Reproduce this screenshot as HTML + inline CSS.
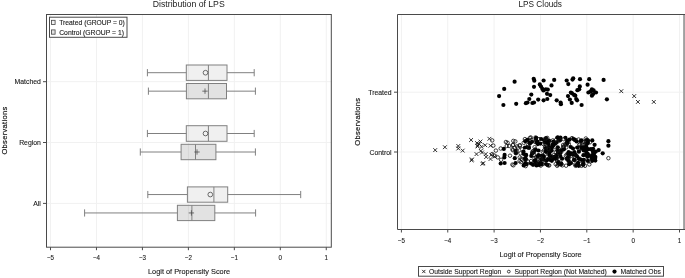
<!DOCTYPE html>
<html><head><meta charset="utf-8"><title>LPS</title>
<style>html,body{margin:0;padding:0;background:#fff}svg{display:block;will-change:transform;opacity:0.999}</style></head>
<body>
<svg width="685" height="278" viewBox="0 0 685 278" font-family="Liberation Sans, Arial, Helvetica, sans-serif">
<line x1="50.50" y1="14.5" x2="50.50" y2="247.2" stroke="#f1f1f1" stroke-width="1"/>
<line x1="96.46" y1="14.5" x2="96.46" y2="247.2" stroke="#f1f1f1" stroke-width="1"/>
<line x1="142.42" y1="14.5" x2="142.42" y2="247.2" stroke="#f1f1f1" stroke-width="1"/>
<line x1="188.38" y1="14.5" x2="188.38" y2="247.2" stroke="#f1f1f1" stroke-width="1"/>
<line x1="234.34" y1="14.5" x2="234.34" y2="247.2" stroke="#f1f1f1" stroke-width="1"/>
<line x1="280.30" y1="14.5" x2="280.30" y2="247.2" stroke="#f1f1f1" stroke-width="1"/>
<line x1="326.26" y1="14.5" x2="326.26" y2="247.2" stroke="#f1f1f1" stroke-width="1"/>
<line x1="46.5" y1="81.7" x2="331.3" y2="81.7" stroke="#f1f1f1" stroke-width="1"/>
<line x1="46.5" y1="142.5" x2="331.3" y2="142.5" stroke="#f1f1f1" stroke-width="1"/>
<line x1="46.5" y1="203.4" x2="331.3" y2="203.4" stroke="#f1f1f1" stroke-width="1"/>
<line x1="147.4" y1="72.7" x2="186.3" y2="72.7" stroke="#808080" stroke-width="1"/>
<line x1="227.0" y1="72.7" x2="254.2" y2="72.7" stroke="#808080" stroke-width="1"/>
<line x1="147.4" y1="69.10000000000001" x2="147.4" y2="76.3" stroke="#808080" stroke-width="1"/>
<line x1="254.2" y1="69.10000000000001" x2="254.2" y2="76.3" stroke="#808080" stroke-width="1"/>
<rect x="186.3" y="65.0" width="40.70" height="15.40" fill="#000" fill-opacity="0.058" stroke="#808080" stroke-width="1"/>
<line x1="208.4" y1="65.0" x2="208.4" y2="80.4" stroke="#808080" stroke-width="1"/>
<circle cx="205.5" cy="72.7" r="2.35" fill="none" stroke="#4a4a4a" stroke-width="0.8"/>
<line x1="148.4" y1="91.15" x2="186.4" y2="91.15" stroke="#808080" stroke-width="1"/>
<line x1="226.5" y1="91.15" x2="255.4" y2="91.15" stroke="#808080" stroke-width="1"/>
<line x1="148.4" y1="87.55000000000001" x2="148.4" y2="94.75" stroke="#808080" stroke-width="1"/>
<line x1="255.4" y1="87.55000000000001" x2="255.4" y2="94.75" stroke="#808080" stroke-width="1"/>
<rect x="186.4" y="83.5" width="40.10" height="15.30" fill="#000" fill-opacity="0.115" stroke="#808080" stroke-width="1"/>
<line x1="208.4" y1="83.5" x2="208.4" y2="98.8" stroke="#808080" stroke-width="1"/>
<path d="M202.3 91.15H207.7M205.0 88.45V93.85000000000001" stroke="#4a4a4a" stroke-width="0.75" fill="none"/>
<line x1="147.4" y1="133.5" x2="186.3" y2="133.5" stroke="#808080" stroke-width="1"/>
<line x1="227.0" y1="133.5" x2="254.2" y2="133.5" stroke="#808080" stroke-width="1"/>
<line x1="147.4" y1="129.9" x2="147.4" y2="137.1" stroke="#808080" stroke-width="1"/>
<line x1="254.2" y1="129.9" x2="254.2" y2="137.1" stroke="#808080" stroke-width="1"/>
<rect x="186.3" y="125.7" width="40.70" height="15.60" fill="#000" fill-opacity="0.058" stroke="#808080" stroke-width="1"/>
<line x1="208.4" y1="125.7" x2="208.4" y2="141.3" stroke="#808080" stroke-width="1"/>
<circle cx="205.5" cy="133.5" r="2.35" fill="none" stroke="#4a4a4a" stroke-width="0.8"/>
<line x1="140.3" y1="152.0" x2="181.1" y2="152.0" stroke="#808080" stroke-width="1"/>
<line x1="215.9" y1="152.0" x2="255.4" y2="152.0" stroke="#808080" stroke-width="1"/>
<line x1="140.3" y1="148.4" x2="140.3" y2="155.6" stroke="#808080" stroke-width="1"/>
<line x1="255.4" y1="148.4" x2="255.4" y2="155.6" stroke="#808080" stroke-width="1"/>
<rect x="181.1" y="144.3" width="34.80" height="15.40" fill="#000" fill-opacity="0.115" stroke="#808080" stroke-width="1"/>
<line x1="195.5" y1="144.3" x2="195.5" y2="159.7" stroke="#808080" stroke-width="1"/>
<path d="M194.3 152.0H199.7M197.0 149.3V154.7" stroke="#4a4a4a" stroke-width="0.75" fill="none"/>
<line x1="147.8" y1="194.55" x2="187.4" y2="194.55" stroke="#808080" stroke-width="1"/>
<line x1="227.7" y1="194.55" x2="300.7" y2="194.55" stroke="#808080" stroke-width="1"/>
<line x1="147.8" y1="190.95000000000002" x2="147.8" y2="198.15" stroke="#808080" stroke-width="1"/>
<line x1="300.7" y1="190.95000000000002" x2="300.7" y2="198.15" stroke="#808080" stroke-width="1"/>
<rect x="187.4" y="186.9" width="40.30" height="15.30" fill="#000" fill-opacity="0.058" stroke="#808080" stroke-width="1"/>
<line x1="213.9" y1="186.9" x2="213.9" y2="202.2" stroke="#808080" stroke-width="1"/>
<circle cx="210.3" cy="194.55" r="2.35" fill="none" stroke="#4a4a4a" stroke-width="0.8"/>
<line x1="84.6" y1="212.95" x2="177.4" y2="212.95" stroke="#808080" stroke-width="1"/>
<line x1="214.8" y1="212.95" x2="255.6" y2="212.95" stroke="#808080" stroke-width="1"/>
<line x1="84.6" y1="209.35" x2="84.6" y2="216.54999999999998" stroke="#808080" stroke-width="1"/>
<line x1="255.6" y1="209.35" x2="255.6" y2="216.54999999999998" stroke="#808080" stroke-width="1"/>
<rect x="177.4" y="205.3" width="37.40" height="15.30" fill="#000" fill-opacity="0.115" stroke="#808080" stroke-width="1"/>
<line x1="191.9" y1="205.3" x2="191.9" y2="220.6" stroke="#808080" stroke-width="1"/>
<path d="M188.70000000000002 212.95H194.1M191.4 210.25V215.64999999999998" stroke="#4a4a4a" stroke-width="0.75" fill="none"/>
<rect x="46.5" y="14.5" width="284.8" height="232.7" fill="none" stroke="#4a4a4a" stroke-width="1"/>
<line x1="50.50" y1="247.2" x2="50.50" y2="250.2" stroke="#4a4a4a" stroke-width="1"/>
<text transform="translate(50.5 260.0) scale(0.82 1)" font-size="7.6" text-anchor="middle" fill="#1a1a1a" stroke="#1a1a1a" stroke-width="0.12">−5</text>
<line x1="96.46" y1="247.2" x2="96.46" y2="250.2" stroke="#4a4a4a" stroke-width="1"/>
<text transform="translate(96.46 260.0) scale(0.82 1)" font-size="7.6" text-anchor="middle" fill="#1a1a1a" stroke="#1a1a1a" stroke-width="0.12">−4</text>
<line x1="142.42" y1="247.2" x2="142.42" y2="250.2" stroke="#4a4a4a" stroke-width="1"/>
<text transform="translate(142.42 260.0) scale(0.82 1)" font-size="7.6" text-anchor="middle" fill="#1a1a1a" stroke="#1a1a1a" stroke-width="0.12">−3</text>
<line x1="188.38" y1="247.2" x2="188.38" y2="250.2" stroke="#4a4a4a" stroke-width="1"/>
<text transform="translate(188.38 260.0) scale(0.82 1)" font-size="7.6" text-anchor="middle" fill="#1a1a1a" stroke="#1a1a1a" stroke-width="0.12">−2</text>
<line x1="234.34" y1="247.2" x2="234.34" y2="250.2" stroke="#4a4a4a" stroke-width="1"/>
<text transform="translate(234.34 260.0) scale(0.82 1)" font-size="7.6" text-anchor="middle" fill="#1a1a1a" stroke="#1a1a1a" stroke-width="0.12">−1</text>
<line x1="280.30" y1="247.2" x2="280.30" y2="250.2" stroke="#4a4a4a" stroke-width="1"/>
<text transform="translate(280.3 260.0) scale(0.82 1)" font-size="7.6" text-anchor="middle" fill="#1a1a1a" stroke="#1a1a1a" stroke-width="0.12">0</text>
<line x1="326.26" y1="247.2" x2="326.26" y2="250.2" stroke="#4a4a4a" stroke-width="1"/>
<text transform="translate(326.26 260.0) scale(0.82 1)" font-size="7.6" text-anchor="middle" fill="#1a1a1a" stroke="#1a1a1a" stroke-width="0.12">1</text>
<line x1="43.0" y1="81.7" x2="46.5" y2="81.7" stroke="#4a4a4a" stroke-width="1"/>
<text transform="translate(40.9 84.4) scale(0.905 1)" font-size="7.6" text-anchor="end" fill="#1a1a1a" stroke="#1a1a1a" stroke-width="0.12">Matched</text>
<line x1="43.0" y1="142.5" x2="46.5" y2="142.5" stroke="#4a4a4a" stroke-width="1"/>
<text transform="translate(40.9 145.2) scale(0.905 1)" font-size="7.6" text-anchor="end" fill="#1a1a1a" stroke="#1a1a1a" stroke-width="0.12">Region</text>
<line x1="43.0" y1="203.4" x2="46.5" y2="203.4" stroke="#4a4a4a" stroke-width="1"/>
<text transform="translate(40.9 206.1) scale(0.905 1)" font-size="7.6" text-anchor="end" fill="#1a1a1a" stroke="#1a1a1a" stroke-width="0.12">All</text>
<text transform="translate(152.8 7.4)" font-size="9.1" text-anchor="start" fill="#1a1a1a" textLength="71.9" lengthAdjust="spacingAndGlyphs">Distribution of LPS</text>
<text transform="translate(148.0 273.9)" font-size="8.0" text-anchor="start" fill="#1a1a1a" textLength="82.2" lengthAdjust="spacingAndGlyphs" stroke="#1a1a1a" stroke-width="0.12">Logit of Propensity Score</text>
<text transform="translate(6.5 154.6) rotate(-90)" font-size="7.5" text-anchor="start" fill="#1a1a1a" textLength="47.8" lengthAdjust="spacing" stroke="#1a1a1a" stroke-width="0.2">Observations</text>
<rect x="49.5" y="17.2" width="77.5" height="20.1" fill="#fff" stroke="#4a4a4a" stroke-width="1"/>
<rect x="51.5" y="20.3" width="3.6" height="4.3" fill="#f1f1f1" stroke="#444" stroke-width="0.8"/>
<rect x="51.5" y="29.9" width="3.6" height="4.3" fill="#e2e2e2" stroke="#444" stroke-width="0.8"/>
<text transform="translate(59.2 25.3)" font-size="7.6" text-anchor="start" fill="#1a1a1a" textLength="65.6" lengthAdjust="spacingAndGlyphs" stroke="#1a1a1a" stroke-width="0.12">Treated (GROUP = 0)</text>
<text transform="translate(59.2 34.8)" font-size="7.6" text-anchor="start" fill="#1a1a1a" textLength="64.8" lengthAdjust="spacingAndGlyphs" stroke="#1a1a1a" stroke-width="0.12">Control (GROUP = 1)</text>
<line x1="401.40" y1="14.5" x2="401.40" y2="229.5" stroke="#f1f1f1" stroke-width="1"/>
<line x1="447.75" y1="14.5" x2="447.75" y2="229.5" stroke="#f1f1f1" stroke-width="1"/>
<line x1="494.10" y1="14.5" x2="494.10" y2="229.5" stroke="#f1f1f1" stroke-width="1"/>
<line x1="540.45" y1="14.5" x2="540.45" y2="229.5" stroke="#f1f1f1" stroke-width="1"/>
<line x1="586.80" y1="14.5" x2="586.80" y2="229.5" stroke="#f1f1f1" stroke-width="1"/>
<line x1="633.15" y1="14.5" x2="633.15" y2="229.5" stroke="#f1f1f1" stroke-width="1"/>
<line x1="679.50" y1="14.5" x2="679.50" y2="229.5" stroke="#f1f1f1" stroke-width="1"/>
<line x1="397.5" y1="92.2" x2="683.5" y2="92.2" stroke="#f1f1f1" stroke-width="1"/>
<line x1="397.5" y1="152.0" x2="683.5" y2="152.0" stroke="#f1f1f1" stroke-width="1"/>
<circle cx="499.1" cy="96.1" r="2.1" fill="#000"/>
<circle cx="504.2" cy="88.9" r="2.1" fill="#000"/>
<circle cx="503.4" cy="105.0" r="2.1" fill="#000"/>
<circle cx="514.6" cy="81.7" r="2.1" fill="#000"/>
<circle cx="516.2" cy="103.8" r="2.1" fill="#000"/>
<circle cx="525.9" cy="103.2" r="2.1" fill="#000"/>
<circle cx="527.5" cy="102.5" r="2.1" fill="#000"/>
<circle cx="529.3" cy="99.0" r="2.1" fill="#000"/>
<circle cx="531.3" cy="94.6" r="2.1" fill="#000"/>
<circle cx="532.4" cy="103.0" r="2.1" fill="#000"/>
<circle cx="534.0" cy="102.5" r="2.1" fill="#000"/>
<circle cx="533.7" cy="78.8" r="2.1" fill="#000"/>
<circle cx="534.3" cy="80.7" r="2.1" fill="#000"/>
<circle cx="534.0" cy="86.8" r="2.1" fill="#000"/>
<circle cx="538.2" cy="99.6" r="2.1" fill="#000"/>
<circle cx="539.8" cy="84.4" r="2.1" fill="#000"/>
<circle cx="541.0" cy="86.5" r="2.1" fill="#000"/>
<circle cx="542.3" cy="88.8" r="2.1" fill="#000"/>
<circle cx="543.4" cy="90.4" r="2.1" fill="#000"/>
<circle cx="543.6" cy="80.5" r="2.1" fill="#000"/>
<circle cx="543.6" cy="100.3" r="2.1" fill="#000"/>
<circle cx="545.8" cy="89.3" r="2.1" fill="#000"/>
<circle cx="547.8" cy="89.6" r="2.1" fill="#000"/>
<circle cx="547.0" cy="93.8" r="2.1" fill="#000"/>
<circle cx="547.3" cy="99.0" r="2.1" fill="#000"/>
<circle cx="550.2" cy="95.1" r="2.1" fill="#000"/>
<circle cx="551.5" cy="85.4" r="2.1" fill="#000"/>
<circle cx="554.2" cy="79.9" r="2.1" fill="#000"/>
<circle cx="556.7" cy="100.3" r="2.1" fill="#000"/>
<circle cx="560.6" cy="102.5" r="2.1" fill="#000"/>
<circle cx="560.9" cy="104.2" r="2.1" fill="#000"/>
<circle cx="566.7" cy="80.5" r="2.1" fill="#000"/>
<circle cx="568.3" cy="84.1" r="2.1" fill="#000"/>
<circle cx="568.0" cy="96.1" r="2.1" fill="#000"/>
<circle cx="569.9" cy="99.5" r="2.1" fill="#000"/>
<circle cx="570.9" cy="92.5" r="2.1" fill="#000"/>
<circle cx="572.0" cy="93.3" r="2.1" fill="#000"/>
<circle cx="571.7" cy="102.9" r="2.1" fill="#000"/>
<circle cx="572.5" cy="79.6" r="2.1" fill="#000"/>
<circle cx="573.2" cy="78.3" r="2.1" fill="#000"/>
<circle cx="574.1" cy="94.9" r="2.1" fill="#000"/>
<circle cx="575.3" cy="95.7" r="2.1" fill="#000"/>
<circle cx="576.2" cy="99.0" r="2.1" fill="#000"/>
<circle cx="577.1" cy="100.3" r="2.1" fill="#000"/>
<circle cx="577.4" cy="90.2" r="2.1" fill="#000"/>
<circle cx="579.2" cy="89.3" r="2.1" fill="#000"/>
<circle cx="579.8" cy="86.4" r="2.1" fill="#000"/>
<circle cx="580.0" cy="79.2" r="2.1" fill="#000"/>
<circle cx="581.6" cy="105.0" r="2.1" fill="#000"/>
<circle cx="587.6" cy="84.7" r="2.1" fill="#000"/>
<circle cx="589.2" cy="79.2" r="2.1" fill="#000"/>
<circle cx="588.4" cy="92.5" r="2.1" fill="#000"/>
<circle cx="590.3" cy="91.7" r="2.1" fill="#000"/>
<circle cx="591.9" cy="89.3" r="2.1" fill="#000"/>
<circle cx="593.6" cy="90.4" r="2.1" fill="#000"/>
<circle cx="591.9" cy="95.7" r="2.1" fill="#000"/>
<circle cx="593.1" cy="94.1" r="2.1" fill="#000"/>
<circle cx="596.0" cy="92.5" r="2.1" fill="#000"/>
<circle cx="603.6" cy="79.9" r="2.1" fill="#000"/>
<circle cx="606.9" cy="99.3" r="2.1" fill="#000"/>
<path d="M619.4 89.3L623.2 93.1M619.4 93.1L623.2 89.3" stroke="#1a1a1a" stroke-width="0.9" fill="none"/>
<path d="M632.3 94.2L636.1 98.0M632.3 98.0L636.1 94.2" stroke="#1a1a1a" stroke-width="0.9" fill="none"/>
<path d="M636.0 100.0L639.8 103.8M636.0 103.8L639.8 100.0" stroke="#1a1a1a" stroke-width="0.9" fill="none"/>
<path d="M651.9 100.0L655.7 103.8M651.9 103.8L655.7 100.0" stroke="#1a1a1a" stroke-width="0.9" fill="none"/>
<path d="M433.3 148.2L437.1 152.0M433.3 152.0L437.1 148.2" stroke="#1a1a1a" stroke-width="0.9" fill="none"/>
<path d="M443.0 145.3L446.8 149.1M443.0 149.1L446.8 145.3" stroke="#1a1a1a" stroke-width="0.9" fill="none"/>
<path d="M456.4 144.1L460.2 147.9M456.4 147.9L460.2 144.1" stroke="#1a1a1a" stroke-width="0.9" fill="none"/>
<path d="M456.4 146.6L460.2 150.4M456.4 150.4L460.2 146.6" stroke="#1a1a1a" stroke-width="0.9" fill="none"/>
<path d="M460.8 148.7L464.6 152.5M460.8 152.5L464.6 148.7" stroke="#1a1a1a" stroke-width="0.9" fill="none"/>
<path d="M469.2 138.1L473.0 141.9M469.2 141.9L473.0 138.1" stroke="#1a1a1a" stroke-width="0.9" fill="none"/>
<path d="M470.0 157.6L473.8 161.4M470.0 161.4L473.8 157.6" stroke="#1a1a1a" stroke-width="0.9" fill="none"/>
<path d="M469.7 158.4L473.5 162.2M469.7 162.2L473.5 158.4" stroke="#1a1a1a" stroke-width="0.9" fill="none"/>
<path d="M474.6 152.2L478.4 156.0M474.6 156.0L478.4 152.2" stroke="#1a1a1a" stroke-width="0.9" fill="none"/>
<path d="M475.2 141.2L479.0 145.0M475.2 145.0L479.0 141.2" stroke="#1a1a1a" stroke-width="0.9" fill="none"/>
<path d="M475.7 143.3L479.5 147.1M475.7 147.1L479.5 143.3" stroke="#1a1a1a" stroke-width="0.9" fill="none"/>
<path d="M475.7 144.5L479.5 148.3M475.7 148.3L479.5 144.5" stroke="#1a1a1a" stroke-width="0.9" fill="none"/>
<path d="M478.6 139.6L482.4 143.4M478.6 143.4L482.4 139.6" stroke="#1a1a1a" stroke-width="0.9" fill="none"/>
<path d="M478.9 149.0L482.7 152.8M478.9 152.8L482.7 149.0" stroke="#1a1a1a" stroke-width="0.9" fill="none"/>
<path d="M479.7 144.9L483.5 148.7M479.7 148.7L483.5 144.9" stroke="#1a1a1a" stroke-width="0.9" fill="none"/>
<path d="M480.5 161.9L484.3 165.7M480.5 165.7L484.3 161.9" stroke="#1a1a1a" stroke-width="0.9" fill="none"/>
<path d="M481.4 161.3L485.2 165.1M481.4 165.1L485.2 161.3" stroke="#1a1a1a" stroke-width="0.9" fill="none"/>
<path d="M483.3 143.3L487.1 147.1M483.3 147.1L487.1 143.3" stroke="#1a1a1a" stroke-width="0.9" fill="none"/>
<path d="M483.8 152.2L487.6 156.0M483.8 156.0L487.6 152.2" stroke="#1a1a1a" stroke-width="0.9" fill="none"/>
<path d="M484.3 155.1L488.1 158.9M484.3 158.9L488.1 155.1" stroke="#1a1a1a" stroke-width="0.9" fill="none"/>
<path d="M487.5 136.9L491.3 140.7M487.5 140.7L491.3 136.9" stroke="#1a1a1a" stroke-width="0.9" fill="none"/>
<path d="M488.6 143.8L492.4 147.6M488.6 147.6L492.4 143.8" stroke="#1a1a1a" stroke-width="0.9" fill="none"/>
<path d="M489.4 153.0L493.2 156.8M489.4 156.8L493.2 153.0" stroke="#1a1a1a" stroke-width="0.9" fill="none"/>
<path d="M488.6 157.1L492.4 160.9M488.6 160.9L492.4 157.1" stroke="#1a1a1a" stroke-width="0.9" fill="none"/>
<path d="M492.7 154.7L496.5 158.5M492.7 158.5L496.5 154.7" stroke="#1a1a1a" stroke-width="0.9" fill="none"/>
<path d="M477.3 142.2L481.1 146.0M477.3 146.0L481.1 142.2" stroke="#1a1a1a" stroke-width="0.9" fill="none"/>
<path d="M480.1 150.6L483.9 154.4M480.1 154.4L483.9 150.6" stroke="#1a1a1a" stroke-width="0.9" fill="none"/>
<circle cx="492.2" cy="140.4" r="1.75" fill="none" stroke="#111" stroke-width="0.8"/>
<circle cx="493.3" cy="145.6" r="1.75" fill="none" stroke="#111" stroke-width="0.8"/>
<circle cx="495.9" cy="150.6" r="1.75" fill="none" stroke="#111" stroke-width="0.8"/>
<circle cx="492.2" cy="154.1" r="1.75" fill="none" stroke="#111" stroke-width="0.8"/>
<circle cx="494.6" cy="155.7" r="1.75" fill="none" stroke="#111" stroke-width="0.8"/>
<circle cx="497.8" cy="157.4" r="1.75" fill="none" stroke="#111" stroke-width="0.8"/>
<circle cx="500.7" cy="148.5" r="1.75" fill="none" stroke="#111" stroke-width="0.8"/>
<circle cx="505.9" cy="142.0" r="1.75" fill="none" stroke="#111" stroke-width="0.8"/>
<circle cx="506.7" cy="146.0" r="1.75" fill="none" stroke="#111" stroke-width="0.8"/>
<circle cx="509.1" cy="146.0" r="1.75" fill="none" stroke="#111" stroke-width="0.8"/>
<circle cx="513.2" cy="144.9" r="1.75" fill="none" stroke="#111" stroke-width="0.8"/>
<circle cx="519.7" cy="145.2" r="1.75" fill="none" stroke="#111" stroke-width="0.8"/>
<circle cx="522.1" cy="149.3" r="1.75" fill="none" stroke="#111" stroke-width="0.8"/>
<circle cx="512.4" cy="149.3" r="1.75" fill="none" stroke="#111" stroke-width="0.8"/>
<circle cx="518.0" cy="147.7" r="1.75" fill="none" stroke="#111" stroke-width="0.8"/>
<circle cx="520.5" cy="153.3" r="1.75" fill="none" stroke="#111" stroke-width="0.8"/>
<circle cx="519.7" cy="157.4" r="1.75" fill="none" stroke="#111" stroke-width="0.8"/>
<circle cx="522.1" cy="159.8" r="1.75" fill="none" stroke="#111" stroke-width="0.8"/>
<circle cx="512.4" cy="164.6" r="1.75" fill="none" stroke="#111" stroke-width="0.8"/>
<circle cx="501.1" cy="159.8" r="1.75" fill="none" stroke="#111" stroke-width="0.8"/>
<circle cx="510.0" cy="155.7" r="1.75" fill="none" stroke="#111" stroke-width="0.8"/>
<circle cx="523.7" cy="142.8" r="1.75" fill="none" stroke="#111" stroke-width="0.8"/>
<circle cx="503.8" cy="148.9" r="2.1" fill="#000"/>
<circle cx="504.6" cy="154.9" r="2.1" fill="#000"/>
<circle cx="504.3" cy="157.4" r="2.1" fill="#000"/>
<circle cx="500.7" cy="163.5" r="2.1" fill="#000"/>
<circle cx="504.6" cy="163.0" r="2.1" fill="#000"/>
<circle cx="515.6" cy="150.9" r="2.1" fill="#000"/>
<circle cx="515.9" cy="153.3" r="2.1" fill="#000"/>
<circle cx="514.8" cy="158.2" r="2.1" fill="#000"/>
<circle cx="515.6" cy="163.0" r="2.1" fill="#000"/>
<circle cx="525.3" cy="141.2" r="2.1" fill="#000"/>
<circle cx="526.1" cy="154.9" r="2.1" fill="#000"/>
<circle cx="525.3" cy="163.0" r="2.1" fill="#000"/>
<circle cx="536.2" cy="137.9" r="2.1" fill="#000"/>
<circle cx="558.1" cy="152.1" r="2.1" fill="#000"/>
<circle cx="570.3" cy="153.9" r="2.1" fill="#000"/>
<circle cx="586.5" cy="143.5" r="2.1" fill="#000"/>
<circle cx="593.0" cy="151.6" r="2.1" fill="#000"/>
<circle cx="585.1" cy="148.8" r="1.75" fill="none" stroke="#111" stroke-width="0.8"/>
<circle cx="540.7" cy="165.6" r="1.75" fill="none" stroke="#111" stroke-width="0.8"/>
<circle cx="563.7" cy="147.5" r="1.75" fill="none" stroke="#111" stroke-width="0.8"/>
<circle cx="541.4" cy="155.9" r="2.1" fill="#000"/>
<circle cx="558.9" cy="164.0" r="2.1" fill="#000"/>
<circle cx="573.2" cy="138.8" r="2.1" fill="#000"/>
<circle cx="585.8" cy="138.5" r="1.75" fill="none" stroke="#111" stroke-width="0.8"/>
<circle cx="583.1" cy="164.8" r="2.1" fill="#000"/>
<circle cx="582.6" cy="144.6" r="1.75" fill="none" stroke="#111" stroke-width="0.8"/>
<circle cx="542.9" cy="157.1" r="1.75" fill="none" stroke="#111" stroke-width="0.8"/>
<circle cx="533.6" cy="152.5" r="2.1" fill="#000"/>
<circle cx="534.5" cy="158.3" r="1.75" fill="none" stroke="#111" stroke-width="0.8"/>
<circle cx="594.2" cy="156.9" r="2.1" fill="#000"/>
<circle cx="547.6" cy="151.6" r="1.75" fill="none" stroke="#111" stroke-width="0.8"/>
<circle cx="558.4" cy="148.5" r="1.75" fill="none" stroke="#111" stroke-width="0.8"/>
<circle cx="548.7" cy="141.1" r="2.1" fill="#000"/>
<circle cx="546.7" cy="152.2" r="1.75" fill="none" stroke="#111" stroke-width="0.8"/>
<circle cx="529.4" cy="142.8" r="2.1" fill="#000"/>
<circle cx="521.3" cy="158.6" r="1.75" fill="none" stroke="#111" stroke-width="0.8"/>
<circle cx="579.1" cy="149.4" r="1.75" fill="none" stroke="#111" stroke-width="0.8"/>
<circle cx="546.0" cy="138.0" r="2.1" fill="#000"/>
<circle cx="549.0" cy="140.7" r="2.1" fill="#000"/>
<circle cx="523.5" cy="151.7" r="2.1" fill="#000"/>
<circle cx="557.4" cy="137.6" r="2.1" fill="#000"/>
<circle cx="535.9" cy="140.9" r="1.75" fill="none" stroke="#111" stroke-width="0.8"/>
<circle cx="516.9" cy="151.5" r="1.75" fill="none" stroke="#111" stroke-width="0.8"/>
<circle cx="561.3" cy="151.8" r="1.75" fill="none" stroke="#111" stroke-width="0.8"/>
<circle cx="590.2" cy="161.4" r="1.75" fill="none" stroke="#111" stroke-width="0.8"/>
<circle cx="549.0" cy="147.1" r="2.1" fill="#000"/>
<circle cx="547.2" cy="137.9" r="1.75" fill="none" stroke="#111" stroke-width="0.8"/>
<circle cx="520.9" cy="162.1" r="1.75" fill="none" stroke="#111" stroke-width="0.8"/>
<circle cx="525.6" cy="158.5" r="2.1" fill="#000"/>
<circle cx="559.3" cy="152.4" r="2.1" fill="#000"/>
<circle cx="578.6" cy="139.5" r="1.75" fill="none" stroke="#111" stroke-width="0.8"/>
<circle cx="532.1" cy="153.5" r="2.1" fill="#000"/>
<circle cx="546.2" cy="142.0" r="2.1" fill="#000"/>
<circle cx="549.6" cy="152.4" r="2.1" fill="#000"/>
<circle cx="571.0" cy="153.9" r="2.1" fill="#000"/>
<circle cx="557.7" cy="147.3" r="2.1" fill="#000"/>
<circle cx="532.0" cy="141.8" r="2.1" fill="#000"/>
<circle cx="583.3" cy="164.7" r="2.1" fill="#000"/>
<circle cx="581.5" cy="140.3" r="2.1" fill="#000"/>
<circle cx="535.6" cy="160.0" r="2.1" fill="#000"/>
<circle cx="552.7" cy="145.3" r="2.1" fill="#000"/>
<circle cx="558.9" cy="140.4" r="1.75" fill="none" stroke="#111" stroke-width="0.8"/>
<circle cx="575.7" cy="154.8" r="2.1" fill="#000"/>
<circle cx="550.0" cy="159.8" r="2.1" fill="#000"/>
<circle cx="592.3" cy="159.6" r="2.1" fill="#000"/>
<circle cx="539.0" cy="139.1" r="1.75" fill="none" stroke="#111" stroke-width="0.8"/>
<circle cx="560.3" cy="156.1" r="2.1" fill="#000"/>
<circle cx="513.0" cy="150.3" r="1.75" fill="none" stroke="#111" stroke-width="0.8"/>
<circle cx="551.7" cy="150.6" r="2.1" fill="#000"/>
<circle cx="562.4" cy="165.3" r="1.75" fill="none" stroke="#111" stroke-width="0.8"/>
<circle cx="530.0" cy="143.4" r="2.1" fill="#000"/>
<circle cx="545.9" cy="151.6" r="1.75" fill="none" stroke="#111" stroke-width="0.8"/>
<circle cx="555.7" cy="164.2" r="1.75" fill="none" stroke="#111" stroke-width="0.8"/>
<circle cx="554.9" cy="158.4" r="2.1" fill="#000"/>
<circle cx="563.2" cy="147.2" r="1.75" fill="none" stroke="#111" stroke-width="0.8"/>
<circle cx="581.4" cy="145.7" r="1.75" fill="none" stroke="#111" stroke-width="0.8"/>
<circle cx="561.1" cy="150.4" r="2.1" fill="#000"/>
<circle cx="580.5" cy="164.1" r="1.75" fill="none" stroke="#111" stroke-width="0.8"/>
<circle cx="560.4" cy="137.6" r="2.1" fill="#000"/>
<circle cx="557.1" cy="161.0" r="1.75" fill="none" stroke="#111" stroke-width="0.8"/>
<circle cx="558.0" cy="164.7" r="1.75" fill="none" stroke="#111" stroke-width="0.8"/>
<circle cx="587.7" cy="153.9" r="2.1" fill="#000"/>
<circle cx="583.4" cy="163.0" r="2.1" fill="#000"/>
<circle cx="535.4" cy="142.0" r="1.75" fill="none" stroke="#111" stroke-width="0.8"/>
<circle cx="556.2" cy="142.6" r="2.1" fill="#000"/>
<circle cx="529.0" cy="147.9" r="2.1" fill="#000"/>
<circle cx="515.3" cy="141.4" r="1.75" fill="none" stroke="#111" stroke-width="0.8"/>
<circle cx="526.8" cy="164.1" r="2.1" fill="#000"/>
<circle cx="554.2" cy="157.2" r="1.75" fill="none" stroke="#111" stroke-width="0.8"/>
<circle cx="538.5" cy="163.4" r="2.1" fill="#000"/>
<circle cx="527.5" cy="147.3" r="2.1" fill="#000"/>
<circle cx="560.1" cy="140.3" r="2.1" fill="#000"/>
<circle cx="576.2" cy="165.3" r="2.1" fill="#000"/>
<circle cx="544.0" cy="150.5" r="1.75" fill="none" stroke="#111" stroke-width="0.8"/>
<circle cx="531.1" cy="161.0" r="1.75" fill="none" stroke="#111" stroke-width="0.8"/>
<circle cx="530.0" cy="137.9" r="1.75" fill="none" stroke="#111" stroke-width="0.8"/>
<circle cx="526.0" cy="155.3" r="2.1" fill="#000"/>
<circle cx="580.5" cy="147.7" r="1.75" fill="none" stroke="#111" stroke-width="0.8"/>
<circle cx="547.9" cy="159.1" r="2.1" fill="#000"/>
<circle cx="555.5" cy="143.2" r="2.1" fill="#000"/>
<circle cx="544.1" cy="139.5" r="1.75" fill="none" stroke="#111" stroke-width="0.8"/>
<circle cx="587.4" cy="156.8" r="2.1" fill="#000"/>
<circle cx="583.9" cy="159.9" r="2.1" fill="#000"/>
<circle cx="536.2" cy="156.9" r="1.75" fill="none" stroke="#111" stroke-width="0.8"/>
<circle cx="552.6" cy="142.5" r="1.75" fill="none" stroke="#111" stroke-width="0.8"/>
<circle cx="535.5" cy="162.2" r="2.1" fill="#000"/>
<circle cx="553.1" cy="157.3" r="2.1" fill="#000"/>
<circle cx="565.2" cy="144.3" r="1.75" fill="none" stroke="#111" stroke-width="0.8"/>
<circle cx="532.3" cy="151.8" r="1.75" fill="none" stroke="#111" stroke-width="0.8"/>
<circle cx="593.1" cy="148.8" r="2.1" fill="#000"/>
<circle cx="558.9" cy="139.7" r="2.1" fill="#000"/>
<circle cx="584.6" cy="142.0" r="1.75" fill="none" stroke="#111" stroke-width="0.8"/>
<circle cx="556.8" cy="154.8" r="2.1" fill="#000"/>
<circle cx="579.7" cy="144.5" r="1.75" fill="none" stroke="#111" stroke-width="0.8"/>
<circle cx="545.1" cy="154.2" r="1.75" fill="none" stroke="#111" stroke-width="0.8"/>
<circle cx="524.9" cy="139.1" r="1.75" fill="none" stroke="#111" stroke-width="0.8"/>
<circle cx="578.1" cy="162.8" r="2.1" fill="#000"/>
<circle cx="551.8" cy="147.6" r="2.1" fill="#000"/>
<circle cx="579.4" cy="144.8" r="1.75" fill="none" stroke="#111" stroke-width="0.8"/>
<circle cx="539.3" cy="163.7" r="1.75" fill="none" stroke="#111" stroke-width="0.8"/>
<circle cx="556.0" cy="140.0" r="1.75" fill="none" stroke="#111" stroke-width="0.8"/>
<circle cx="525.0" cy="147.5" r="2.1" fill="#000"/>
<circle cx="554.3" cy="156.9" r="2.1" fill="#000"/>
<circle cx="553.7" cy="155.2" r="1.75" fill="none" stroke="#111" stroke-width="0.8"/>
<circle cx="533.2" cy="151.0" r="1.75" fill="none" stroke="#111" stroke-width="0.8"/>
<circle cx="578.9" cy="151.7" r="2.1" fill="#000"/>
<circle cx="531.0" cy="163.5" r="2.1" fill="#000"/>
<circle cx="577.0" cy="156.3" r="2.1" fill="#000"/>
<circle cx="584.3" cy="148.7" r="2.1" fill="#000"/>
<circle cx="579.6" cy="158.7" r="1.75" fill="none" stroke="#111" stroke-width="0.8"/>
<circle cx="524.2" cy="164.8" r="2.1" fill="#000"/>
<circle cx="545.1" cy="142.6" r="2.1" fill="#000"/>
<circle cx="588.9" cy="155.4" r="2.1" fill="#000"/>
<circle cx="513.3" cy="140.9" r="1.75" fill="none" stroke="#111" stroke-width="0.8"/>
<circle cx="546.7" cy="160.5" r="2.1" fill="#000"/>
<circle cx="570.1" cy="153.5" r="2.1" fill="#000"/>
<circle cx="538.5" cy="155.2" r="2.1" fill="#000"/>
<circle cx="544.3" cy="140.3" r="2.1" fill="#000"/>
<circle cx="562.1" cy="158.7" r="2.1" fill="#000"/>
<circle cx="571.6" cy="159.3" r="1.75" fill="none" stroke="#111" stroke-width="0.8"/>
<circle cx="548.4" cy="144.1" r="2.1" fill="#000"/>
<circle cx="568.3" cy="142.2" r="1.75" fill="none" stroke="#111" stroke-width="0.8"/>
<circle cx="541.6" cy="159.5" r="2.1" fill="#000"/>
<circle cx="594.2" cy="153.5" r="2.1" fill="#000"/>
<circle cx="523.7" cy="165.5" r="2.1" fill="#000"/>
<circle cx="546.0" cy="164.0" r="2.1" fill="#000"/>
<circle cx="566.5" cy="158.6" r="2.1" fill="#000"/>
<circle cx="545.5" cy="148.1" r="2.1" fill="#000"/>
<circle cx="554.9" cy="147.1" r="1.75" fill="none" stroke="#111" stroke-width="0.8"/>
<circle cx="542.8" cy="151.8" r="1.75" fill="none" stroke="#111" stroke-width="0.8"/>
<circle cx="593.1" cy="151.4" r="2.1" fill="#000"/>
<circle cx="586.9" cy="144.0" r="1.75" fill="none" stroke="#111" stroke-width="0.8"/>
<circle cx="528.0" cy="144.8" r="1.75" fill="none" stroke="#111" stroke-width="0.8"/>
<circle cx="569.4" cy="139.6" r="2.1" fill="#000"/>
<circle cx="544.1" cy="159.8" r="2.1" fill="#000"/>
<circle cx="586.2" cy="141.0" r="1.75" fill="none" stroke="#111" stroke-width="0.8"/>
<circle cx="523.6" cy="153.8" r="2.1" fill="#000"/>
<circle cx="535.2" cy="149.4" r="1.75" fill="none" stroke="#111" stroke-width="0.8"/>
<circle cx="566.3" cy="147.3" r="1.75" fill="none" stroke="#111" stroke-width="0.8"/>
<circle cx="552.3" cy="145.3" r="1.75" fill="none" stroke="#111" stroke-width="0.8"/>
<circle cx="531.3" cy="155.9" r="2.1" fill="#000"/>
<circle cx="535.9" cy="138.6" r="2.1" fill="#000"/>
<circle cx="547.8" cy="143.1" r="2.1" fill="#000"/>
<circle cx="586.3" cy="149.0" r="2.1" fill="#000"/>
<circle cx="547.5" cy="165.1" r="2.1" fill="#000"/>
<circle cx="571.3" cy="153.3" r="2.1" fill="#000"/>
<circle cx="527.3" cy="139.9" r="2.1" fill="#000"/>
<circle cx="537.9" cy="156.6" r="2.1" fill="#000"/>
<circle cx="543.3" cy="144.0" r="1.75" fill="none" stroke="#111" stroke-width="0.8"/>
<circle cx="533.3" cy="152.4" r="1.75" fill="none" stroke="#111" stroke-width="0.8"/>
<circle cx="573.0" cy="148.5" r="2.1" fill="#000"/>
<circle cx="519.6" cy="161.0" r="1.75" fill="none" stroke="#111" stroke-width="0.8"/>
<circle cx="535.5" cy="137.5" r="1.75" fill="none" stroke="#111" stroke-width="0.8"/>
<circle cx="544.7" cy="158.9" r="1.75" fill="none" stroke="#111" stroke-width="0.8"/>
<circle cx="574.7" cy="156.5" r="1.75" fill="none" stroke="#111" stroke-width="0.8"/>
<circle cx="583.5" cy="150.3" r="2.1" fill="#000"/>
<circle cx="567.1" cy="159.1" r="1.75" fill="none" stroke="#111" stroke-width="0.8"/>
<circle cx="540.3" cy="143.6" r="2.1" fill="#000"/>
<circle cx="561.0" cy="164.6" r="2.1" fill="#000"/>
<circle cx="568.6" cy="152.0" r="2.1" fill="#000"/>
<circle cx="585.2" cy="150.6" r="1.75" fill="none" stroke="#111" stroke-width="0.8"/>
<circle cx="545.0" cy="147.1" r="1.75" fill="none" stroke="#111" stroke-width="0.8"/>
<circle cx="555.6" cy="158.7" r="2.1" fill="#000"/>
<circle cx="565.4" cy="137.8" r="2.1" fill="#000"/>
<circle cx="525.0" cy="158.3" r="2.1" fill="#000"/>
<circle cx="548.9" cy="150.2" r="1.75" fill="none" stroke="#111" stroke-width="0.8"/>
<circle cx="588.0" cy="149.0" r="2.1" fill="#000"/>
<circle cx="574.4" cy="152.2" r="2.1" fill="#000"/>
<circle cx="578.7" cy="165.8" r="2.1" fill="#000"/>
<circle cx="558.3" cy="137.8" r="1.75" fill="none" stroke="#111" stroke-width="0.8"/>
<circle cx="535.6" cy="149.8" r="2.1" fill="#000"/>
<circle cx="563.7" cy="146.3" r="1.75" fill="none" stroke="#111" stroke-width="0.8"/>
<circle cx="567.3" cy="140.5" r="2.1" fill="#000"/>
<circle cx="545.5" cy="142.1" r="2.1" fill="#000"/>
<circle cx="575.1" cy="164.5" r="1.75" fill="none" stroke="#111" stroke-width="0.8"/>
<circle cx="570.8" cy="147.0" r="2.1" fill="#000"/>
<circle cx="549.2" cy="149.5" r="2.1" fill="#000"/>
<circle cx="568.5" cy="160.9" r="2.1" fill="#000"/>
<circle cx="546.0" cy="151.2" r="2.1" fill="#000"/>
<circle cx="565.9" cy="155.8" r="1.75" fill="none" stroke="#111" stroke-width="0.8"/>
<circle cx="550.4" cy="156.4" r="2.1" fill="#000"/>
<circle cx="543.7" cy="156.2" r="2.1" fill="#000"/>
<circle cx="553.1" cy="145.8" r="2.1" fill="#000"/>
<circle cx="583.3" cy="160.6" r="1.75" fill="none" stroke="#111" stroke-width="0.8"/>
<circle cx="566.1" cy="165.7" r="1.75" fill="none" stroke="#111" stroke-width="0.8"/>
<circle cx="585.4" cy="144.1" r="1.75" fill="none" stroke="#111" stroke-width="0.8"/>
<circle cx="566.8" cy="154.4" r="1.75" fill="none" stroke="#111" stroke-width="0.8"/>
<circle cx="537.5" cy="159.1" r="1.75" fill="none" stroke="#111" stroke-width="0.8"/>
<circle cx="595.3" cy="160.6" r="2.1" fill="#000"/>
<circle cx="556.8" cy="157.9" r="2.1" fill="#000"/>
<circle cx="536.9" cy="142.6" r="2.1" fill="#000"/>
<circle cx="551.8" cy="160.8" r="2.1" fill="#000"/>
<circle cx="535.7" cy="164.5" r="1.75" fill="none" stroke="#111" stroke-width="0.8"/>
<circle cx="583.4" cy="155.2" r="2.1" fill="#000"/>
<circle cx="591.4" cy="157.5" r="2.1" fill="#000"/>
<circle cx="570.5" cy="154.1" r="2.1" fill="#000"/>
<circle cx="579.8" cy="148.1" r="1.75" fill="none" stroke="#111" stroke-width="0.8"/>
<circle cx="587.8" cy="149.5" r="2.1" fill="#000"/>
<circle cx="536.5" cy="165.5" r="2.1" fill="#000"/>
<circle cx="552.0" cy="159.6" r="2.1" fill="#000"/>
<circle cx="567.0" cy="143.4" r="2.1" fill="#000"/>
<circle cx="563.1" cy="144.9" r="1.75" fill="none" stroke="#111" stroke-width="0.8"/>
<circle cx="548.3" cy="141.5" r="1.75" fill="none" stroke="#111" stroke-width="0.8"/>
<circle cx="586.6" cy="140.0" r="2.1" fill="#000"/>
<circle cx="557.5" cy="150.8" r="2.1" fill="#000"/>
<circle cx="575.5" cy="139.9" r="1.75" fill="none" stroke="#111" stroke-width="0.8"/>
<circle cx="537.7" cy="142.6" r="1.75" fill="none" stroke="#111" stroke-width="0.8"/>
<circle cx="539.0" cy="165.0" r="2.1" fill="#000"/>
<circle cx="533.0" cy="164.8" r="2.1" fill="#000"/>
<circle cx="537.2" cy="141.6" r="2.1" fill="#000"/>
<circle cx="531.3" cy="139.8" r="1.75" fill="none" stroke="#111" stroke-width="0.8"/>
<circle cx="534.2" cy="155.0" r="1.75" fill="none" stroke="#111" stroke-width="0.8"/>
<circle cx="516.0" cy="152.9" r="1.75" fill="none" stroke="#111" stroke-width="0.8"/>
<circle cx="589.9" cy="142.3" r="1.75" fill="none" stroke="#111" stroke-width="0.8"/>
<circle cx="538.5" cy="150.5" r="2.1" fill="#000"/>
<circle cx="588.0" cy="140.7" r="2.1" fill="#000"/>
<circle cx="568.8" cy="144.2" r="1.75" fill="none" stroke="#111" stroke-width="0.8"/>
<circle cx="572.0" cy="138.1" r="1.75" fill="none" stroke="#111" stroke-width="0.8"/>
<circle cx="568.1" cy="153.8" r="2.1" fill="#000"/>
<circle cx="553.7" cy="141.5" r="2.1" fill="#000"/>
<circle cx="581.6" cy="146.9" r="1.75" fill="none" stroke="#111" stroke-width="0.8"/>
<circle cx="560.3" cy="153.1" r="2.1" fill="#000"/>
<circle cx="578.8" cy="158.8" r="2.1" fill="#000"/>
<circle cx="573.7" cy="154.5" r="2.1" fill="#000"/>
<circle cx="517.1" cy="146.4" r="1.75" fill="none" stroke="#111" stroke-width="0.8"/>
<circle cx="568.8" cy="156.1" r="2.1" fill="#000"/>
<circle cx="544.9" cy="141.5" r="1.75" fill="none" stroke="#111" stroke-width="0.8"/>
<circle cx="586.2" cy="146.7" r="2.1" fill="#000"/>
<circle cx="574.8" cy="160.0" r="2.1" fill="#000"/>
<circle cx="514.6" cy="147.9" r="1.75" fill="none" stroke="#111" stroke-width="0.8"/>
<circle cx="586.0" cy="151.1" r="2.1" fill="#000"/>
<circle cx="545.3" cy="144.0" r="1.75" fill="none" stroke="#111" stroke-width="0.8"/>
<circle cx="538.6" cy="162.7" r="1.75" fill="none" stroke="#111" stroke-width="0.8"/>
<circle cx="576.6" cy="141.5" r="2.1" fill="#000"/>
<circle cx="568.2" cy="157.3" r="2.1" fill="#000"/>
<circle cx="571.0" cy="163.1" r="2.1" fill="#000"/>
<circle cx="559.7" cy="140.0" r="1.75" fill="none" stroke="#111" stroke-width="0.8"/>
<circle cx="557.7" cy="137.5" r="2.1" fill="#000"/>
<circle cx="581.9" cy="147.8" r="2.1" fill="#000"/>
<circle cx="547.2" cy="142.0" r="2.1" fill="#000"/>
<circle cx="561.3" cy="150.7" r="1.75" fill="none" stroke="#111" stroke-width="0.8"/>
<circle cx="592.5" cy="155.3" r="2.1" fill="#000"/>
<circle cx="577.2" cy="147.5" r="2.1" fill="#000"/>
<circle cx="540.4" cy="164.3" r="2.1" fill="#000"/>
<circle cx="525.8" cy="159.7" r="2.1" fill="#000"/>
<circle cx="534.6" cy="147.2" r="1.75" fill="none" stroke="#111" stroke-width="0.8"/>
<circle cx="574.0" cy="159.9" r="2.1" fill="#000"/>
<circle cx="540.9" cy="162.8" r="2.1" fill="#000"/>
<circle cx="527.7" cy="161.3" r="1.75" fill="none" stroke="#111" stroke-width="0.8"/>
<circle cx="549.2" cy="165.4" r="1.75" fill="none" stroke="#111" stroke-width="0.8"/>
<circle cx="553.2" cy="144.1" r="2.1" fill="#000"/>
<circle cx="534.5" cy="160.8" r="2.1" fill="#000"/>
<circle cx="573.4" cy="155.3" r="1.75" fill="none" stroke="#111" stroke-width="0.8"/>
<circle cx="595.8" cy="151.5" r="2.1" fill="#000"/>
<circle cx="542.6" cy="164.2" r="1.75" fill="none" stroke="#111" stroke-width="0.8"/>
<circle cx="530.8" cy="137.5" r="1.75" fill="none" stroke="#111" stroke-width="0.8"/>
<circle cx="549.2" cy="155.1" r="2.1" fill="#000"/>
<circle cx="548.6" cy="148.7" r="1.75" fill="none" stroke="#111" stroke-width="0.8"/>
<circle cx="563.9" cy="149.3" r="2.1" fill="#000"/>
<circle cx="595.3" cy="156.8" r="2.1" fill="#000"/>
<circle cx="587.4" cy="140.0" r="1.75" fill="none" stroke="#111" stroke-width="0.8"/>
<circle cx="541.1" cy="139.0" r="2.1" fill="#000"/>
<circle cx="585.5" cy="150.4" r="2.1" fill="#000"/>
<circle cx="568.2" cy="157.4" r="1.75" fill="none" stroke="#111" stroke-width="0.8"/>
<circle cx="557.6" cy="150.3" r="1.75" fill="none" stroke="#111" stroke-width="0.8"/>
<circle cx="592.2" cy="160.8" r="2.1" fill="#000"/>
<circle cx="541.8" cy="163.9" r="2.1" fill="#000"/>
<circle cx="585.8" cy="154.8" r="2.1" fill="#000"/>
<circle cx="561.2" cy="163.4" r="2.1" fill="#000"/>
<circle cx="537.8" cy="144.1" r="2.1" fill="#000"/>
<circle cx="528.9" cy="146.8" r="1.75" fill="none" stroke="#111" stroke-width="0.8"/>
<circle cx="581.3" cy="159.8" r="2.1" fill="#000"/>
<circle cx="566.8" cy="142.8" r="2.1" fill="#000"/>
<circle cx="540.7" cy="159.8" r="1.75" fill="none" stroke="#111" stroke-width="0.8"/>
<circle cx="563.8" cy="139.2" r="1.75" fill="none" stroke="#111" stroke-width="0.8"/>
<circle cx="583.1" cy="141.8" r="1.75" fill="none" stroke="#111" stroke-width="0.8"/>
<circle cx="569.1" cy="164.2" r="2.1" fill="#000"/>
<circle cx="559.0" cy="153.7" r="1.75" fill="none" stroke="#111" stroke-width="0.8"/>
<circle cx="540.6" cy="157.9" r="1.75" fill="none" stroke="#111" stroke-width="0.8"/>
<circle cx="566.2" cy="144.6" r="1.75" fill="none" stroke="#111" stroke-width="0.8"/>
<circle cx="519.9" cy="145.7" r="1.75" fill="none" stroke="#111" stroke-width="0.8"/>
<circle cx="558.1" cy="162.1" r="2.1" fill="#000"/>
<circle cx="574.7" cy="139.9" r="2.1" fill="#000"/>
<circle cx="580.6" cy="141.0" r="2.1" fill="#000"/>
<circle cx="587.9" cy="142.8" r="2.1" fill="#000"/>
<circle cx="592.3" cy="140.4" r="2.1" fill="#000"/>
<circle cx="594.6" cy="144.8" r="2.1" fill="#000"/>
<circle cx="590.8" cy="149.2" r="2.1" fill="#000"/>
<circle cx="583.5" cy="147.7" r="2.1" fill="#000"/>
<circle cx="595.2" cy="158.0" r="2.1" fill="#000"/>
<circle cx="592.3" cy="155.0" r="2.1" fill="#000"/>
<circle cx="587.9" cy="160.9" r="2.1" fill="#000"/>
<circle cx="577.7" cy="163.8" r="2.1" fill="#000"/>
<circle cx="513.4" cy="165.3" r="1.75" fill="none" stroke="#111" stroke-width="0.8"/>
<circle cx="525.7" cy="166.1" r="1.75" fill="none" stroke="#111" stroke-width="0.8"/>
<circle cx="548.5" cy="165.3" r="1.75" fill="none" stroke="#111" stroke-width="0.8"/>
<circle cx="557.2" cy="165.8" r="1.75" fill="none" stroke="#111" stroke-width="0.8"/>
<circle cx="561.0" cy="163.8" r="1.75" fill="none" stroke="#111" stroke-width="0.8"/>
<circle cx="575.6" cy="165.8" r="1.75" fill="none" stroke="#111" stroke-width="0.8"/>
<circle cx="581.5" cy="165.8" r="1.75" fill="none" stroke="#111" stroke-width="0.8"/>
<circle cx="585.0" cy="165.8" r="1.75" fill="none" stroke="#111" stroke-width="0.8"/>
<circle cx="589.3" cy="164.4" r="1.75" fill="none" stroke="#111" stroke-width="0.8"/>
<circle cx="552.8" cy="140.4" r="1.75" fill="none" stroke="#111" stroke-width="0.8"/>
<circle cx="557.2" cy="141.9" r="1.75" fill="none" stroke="#111" stroke-width="0.8"/>
<circle cx="548.5" cy="149.2" r="1.75" fill="none" stroke="#111" stroke-width="0.8"/>
<circle cx="555.8" cy="152.1" r="1.75" fill="none" stroke="#111" stroke-width="0.8"/>
<circle cx="551.4" cy="156.5" r="1.75" fill="none" stroke="#111" stroke-width="0.8"/>
<circle cx="558.7" cy="159.4" r="1.75" fill="none" stroke="#111" stroke-width="0.8"/>
<circle cx="545.5" cy="139.0" r="1.75" fill="none" stroke="#111" stroke-width="0.8"/>
<circle cx="507.6" cy="142.8" r="1.75" fill="none" stroke="#111" stroke-width="0.8"/>
<circle cx="512.8" cy="145.1" r="1.75" fill="none" stroke="#111" stroke-width="0.8"/>
<circle cx="608.4" cy="141.2" r="2.1" fill="#000"/>
<circle cx="608.4" cy="145.7" r="2.1" fill="#000"/>
<circle cx="598.7" cy="150.1" r="2.1" fill="#000"/>
<circle cx="602.7" cy="153.3" r="2.1" fill="#000"/>
<circle cx="608.4" cy="158.2" r="1.75" fill="none" stroke="#111" stroke-width="0.8"/>
<path d="M684.1 14.5V229.5" stroke="#a0a0a0" stroke-width="2" fill="none"/>
<path d="M685.0 14.5H397.5V229.5H685.0" fill="none" stroke="#4a4a4a" stroke-width="1"/>
<line x1="401.40" y1="229.5" x2="401.40" y2="232.5" stroke="#4a4a4a" stroke-width="1"/>
<text transform="translate(401.4 242.6) scale(0.82 1)" font-size="7.6" text-anchor="middle" fill="#1a1a1a" stroke="#1a1a1a" stroke-width="0.12">−5</text>
<line x1="447.75" y1="229.5" x2="447.75" y2="232.5" stroke="#4a4a4a" stroke-width="1"/>
<text transform="translate(447.75 242.6) scale(0.82 1)" font-size="7.6" text-anchor="middle" fill="#1a1a1a" stroke="#1a1a1a" stroke-width="0.12">−4</text>
<line x1="494.10" y1="229.5" x2="494.10" y2="232.5" stroke="#4a4a4a" stroke-width="1"/>
<text transform="translate(494.1 242.6) scale(0.82 1)" font-size="7.6" text-anchor="middle" fill="#1a1a1a" stroke="#1a1a1a" stroke-width="0.12">−3</text>
<line x1="540.45" y1="229.5" x2="540.45" y2="232.5" stroke="#4a4a4a" stroke-width="1"/>
<text transform="translate(540.45 242.6) scale(0.82 1)" font-size="7.6" text-anchor="middle" fill="#1a1a1a" stroke="#1a1a1a" stroke-width="0.12">−2</text>
<line x1="586.80" y1="229.5" x2="586.80" y2="232.5" stroke="#4a4a4a" stroke-width="1"/>
<text transform="translate(586.8 242.6) scale(0.82 1)" font-size="7.6" text-anchor="middle" fill="#1a1a1a" stroke="#1a1a1a" stroke-width="0.12">−1</text>
<line x1="633.15" y1="229.5" x2="633.15" y2="232.5" stroke="#4a4a4a" stroke-width="1"/>
<text transform="translate(633.15 242.6) scale(0.82 1)" font-size="7.6" text-anchor="middle" fill="#1a1a1a" stroke="#1a1a1a" stroke-width="0.12">0</text>
<line x1="679.50" y1="229.5" x2="679.50" y2="232.5" stroke="#4a4a4a" stroke-width="1"/>
<text transform="translate(679.5 242.6) scale(0.82 1)" font-size="7.6" text-anchor="middle" fill="#1a1a1a" stroke="#1a1a1a" stroke-width="0.12">1</text>
<line x1="394.0" y1="92.2" x2="397.5" y2="92.2" stroke="#4a4a4a" stroke-width="1"/>
<text transform="translate(391.6 94.7) scale(0.905 1)" font-size="7.6" text-anchor="end" fill="#1a1a1a" stroke="#1a1a1a" stroke-width="0.12">Treated</text>
<line x1="394.0" y1="152.0" x2="397.5" y2="152.0" stroke="#4a4a4a" stroke-width="1"/>
<text transform="translate(391.6 154.5) scale(0.905 1)" font-size="7.6" text-anchor="end" fill="#1a1a1a" stroke="#1a1a1a" stroke-width="0.12">Control</text>
<text transform="translate(518.5 7.4)" font-size="9.1" text-anchor="start" fill="#1a1a1a" textLength="43.5" lengthAdjust="spacingAndGlyphs">LPS Clouds</text>
<text transform="translate(499.5 256.9)" font-size="8.0" text-anchor="start" fill="#1a1a1a" textLength="82.2" lengthAdjust="spacingAndGlyphs" stroke="#1a1a1a" stroke-width="0.12">Logit of Propensity Score</text>
<text transform="translate(360.3 145.7) rotate(-90)" font-size="7.5" text-anchor="start" fill="#1a1a1a" textLength="47.8" lengthAdjust="spacing" stroke="#1a1a1a" stroke-width="0.2">Observations</text>
<rect x="418.5" y="266.5" width="245" height="9.7" fill="#fff" stroke="#4a4a4a" stroke-width="1"/>
<path d="M422.2 269.9L425.4 273.1M422.2 273.1L425.4 269.9" stroke="#1a1a1a" stroke-width="0.9" fill="none"/>
<text transform="translate(429.0 274.0)" font-size="7.6" text-anchor="start" fill="#1a1a1a" textLength="72.3" lengthAdjust="spacingAndGlyphs" stroke="#1a1a1a" stroke-width="0.12">Outside Support Region</text>
<circle cx="508.8" cy="271.6" r="1.4" fill="none" stroke="#111" stroke-width="0.8"/>
<text transform="translate(514.5 274.0)" font-size="7.6" text-anchor="start" fill="#1a1a1a" textLength="92.3" lengthAdjust="spacingAndGlyphs" stroke="#1a1a1a" stroke-width="0.12">Support Region (Not Matched)</text>
<circle cx="614.5" cy="271.6" r="2.1" fill="#000"/>
<text transform="translate(620.5 274.0)" font-size="7.6" text-anchor="start" fill="#1a1a1a" textLength="40.3" lengthAdjust="spacingAndGlyphs" stroke="#1a1a1a" stroke-width="0.12">Matched Obs</text>
</svg>
</body></html>
